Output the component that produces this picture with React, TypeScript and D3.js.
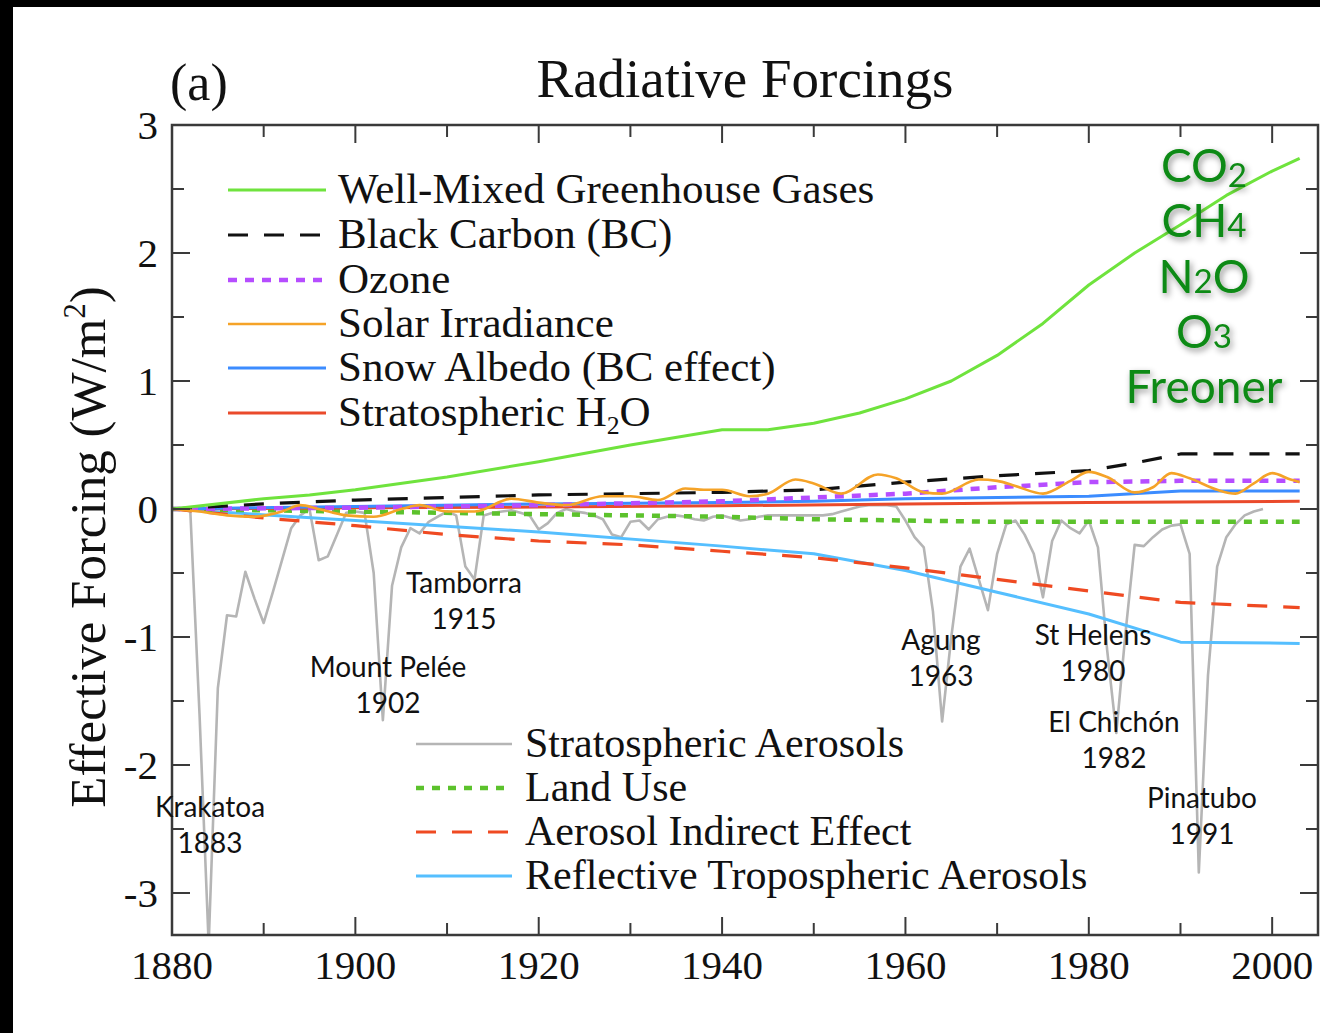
import React from "react";
import * as d3 from "d3";

// ---------- data ----------
const ghgYears = [1880, 1890, 1895, 1900, 1910, 1920, 1930, 1940, 1945, 1950, 1955, 1960, 1965, 1970, 1975, 1980, 1985, 1990, 1995, 2000, 2003];
const ghgVals = [0, 0.08, 0.11, 0.15, 0.25, 0.37, 0.5, 0.62, 0.62, 0.67, 0.75, 0.86, 1.0, 1.2, 1.45, 1.75, 2.0, 2.22, 2.45, 2.64, 2.74];

const bcYears = [1880, 1890, 1900, 1910, 1920, 1930, 1940, 1950, 1960, 1970, 1980, 1985, 1990, 2003];
const bcVals = [0, 0.04, 0.07, 0.09, 0.11, 0.12, 0.13, 0.15, 0.21, 0.26, 0.3, 0.36, 0.43, 0.43];

const ozoneYears = [1880, 1900, 1920, 1940, 1950, 1960, 1970, 1980, 1990, 2003];
const ozoneVals = [0, 0.01, 0.03, 0.06, 0.09, 0.12, 0.17, 0.21, 0.22, 0.22];

const solarYears = [1880, 1883, 1886, 1889, 1892, 1894, 1896, 1899, 1902, 1905, 1907, 1910, 1913, 1917, 1920, 1923, 1927, 1930, 1933, 1936, 1938, 1940, 1943, 1945, 1948, 1950, 1953, 1957, 1959, 1962, 1964, 1968, 1970, 1972, 1975, 1978, 1980, 1982, 1985, 1987, 1989, 1991, 1994, 1996, 1998, 2000, 2002, 2003];
const solarVals = [0, -0.02, -0.05, -0.06, -0.02, 0.03, 0.0, -0.05, -0.06, 0.0, 0.03, -0.02, -0.02, 0.08, 0.05, 0.03, 0.1, 0.1, 0.07, 0.16, 0.15, 0.15, 0.1, 0.12, 0.23, 0.2, 0.12, 0.27, 0.24, 0.13, 0.12, 0.23, 0.22, 0.18, 0.12, 0.22, 0.29, 0.25, 0.13, 0.17, 0.28, 0.24, 0.15, 0.12, 0.2, 0.28, 0.23, 0.21];

const snowYears = [1880, 1900, 1920, 1940, 1950, 1960, 1970, 1980, 1990, 2003];
const snowVals = [0, 0.02, 0.04, 0.05, 0.06, 0.08, 0.09, 0.1, 0.14, 0.14];

const h2oYears = [1880, 1900, 1920, 1940, 1960, 1980, 2003];
const h2oVals = [0, 0.01, 0.015, 0.025, 0.04, 0.05, 0.06];

const saYears = d3.range(1880, 2000);
const saVals = [
  0, 0, -0.02, -1.6, -3.4, -1.4, -0.83, -0.84, -0.49, -0.7,
  -0.89, -0.65, -0.4, -0.15, -0.05, 0, -0.4, -0.37, -0.2, -0.03,
  -0.02, -0.03, -0.5, -1.65, -0.6, -0.3, -0.15, -0.19, -0.1, -0.06,
  -0.02, -0.05, -0.45, -0.55, -0.05, -0.03, -0.02, -0.01, -0.03, -0.05,
  -0.16, -0.11, -0.03, 0, -0.02, -0.03, -0.05, -0.08, -0.2, -0.22,
  -0.1, -0.09, -0.16, -0.08, -0.06, -0.05, -0.06, -0.08, -0.09, -0.06,
  -0.05, -0.07, -0.09, -0.08, -0.06, -0.05, -0.05, -0.05, -0.05, -0.05,
  -0.05, -0.05, -0.04, -0.02, 0, 0.02, 0.03, 0.03, 0.03, 0.02,
  -0.09, -0.22, -0.3, -0.8, -1.66, -1.0, -0.45, -0.31, -0.55, -0.79,
  -0.35, -0.12, -0.09, -0.2, -0.35, -0.69, -0.25, -0.09, -0.15, -0.19,
  -0.09, -0.3, -1.1, -1.75, -0.97, -0.28, -0.29, -0.22, -0.16, -0.13,
  -0.12, -0.35, -2.84, -1.3, -0.45, -0.22, -0.12, -0.05, -0.02, 0,
];

const landYears = [1880, 1900, 1920, 1940, 1950, 1960, 1970, 2003];
const landVals = [0, -0.02, -0.04, -0.06, -0.08, -0.09, -0.1, -0.1];

const aieYears = [1880, 1890, 1900, 1910, 1920, 1930, 1940, 1950, 1960, 1970, 1980, 1990, 2003];
const aieVals = [0, -0.07, -0.13, -0.2, -0.25, -0.28, -0.33, -0.38, -0.46, -0.55, -0.64, -0.73, -0.77];

const rtaYears = [1880, 1900, 1920, 1940, 1950, 1960, 1970, 1980, 1990, 2003];
const rtaVals = [0, -0.09, -0.18, -0.29, -0.35, -0.48, -0.65, -0.82, -1.04, -1.05];

const xTickYears = [1880, 1900, 1920, 1940, 1960, 1980, 2000];
const yTickVals = [-3, -2, -1, 0, 1, 2, 3];

const legendTop = [
  "Well-Mixed Greenhouse Gases",
  "Black Carbon (BC)",
  "Ozone",
  "Solar Irradiance",
  "Snow Albedo (BC effect)",
  "Stratospheric H2O",
];
const legendBottom = [
  "Stratospheric Aerosols",
  "Land Use",
  "Aerosol Indirect Effect",
  "Reflective Tropospheric Aerosols",
];

const volcanoNames = ["Krakatoa", "Mount Pelée", "Tamborra", "Agung", "St Helens", "El Chichón", "Pinatubo"];
const volcanoYears = ["1883", "1902", "1915", "1963", "1980", "1982", "1991"];

const gasLabels = ["CO2", "CH4", "N2O", "O3", "Freoner"];

// ---------- styles ----------
type Sty = { color: string; width: number; dash?: string };
const sGHG: Sty = { color: "#6fe33d", width: 3 };
const sBC: Sty = { color: "#111", width: 3.2, dash: "20 16" };
const sOz: Sty = { color: "#b64dff", width: 4.5, dash: "9 8" };
const sSol: Sty = { color: "#f5a328", width: 2.6 };
const sSnow: Sty = { color: "#3c8cff", width: 3 };
const sH2O: Sty = { color: "#ea4a2b", width: 3 };
const sSA: Sty = { color: "#b5b5b5", width: 2.6 };
const sLand: Sty = { color: "#5cc22c", width: 4.5, dash: "8 8" };
const sAIE: Sty = { color: "#ef4a22", width: 3.2, dash: "20 16" };
const sRTA: Sty = { color: "#55bfff", width: 3 };

const topStyles = [sGHG, sBC, sOz, sSol, sSnow, sH2O];
const bottomStyles = [sSA, sLand, sAIE, sRTA];

const W = 1320;
const H = 1033;
const L = 172, R = 1318, T = 125, B = 935;

const SERIF = "'Liberation Serif', 'Times New Roman', serif";
const SANS = "Lato, 'Open Sans', sans-serif";

export default function App() {
  const x = d3.scaleLinear().domain([1880, 2005]).range([L, R]);
  const y = d3.scaleLinear().domain([-3.328, 3]).range([B, T]);
  const line = d3
    .line<[number, number]>()
    .x((d) => x(d[0]))
    .y((d) => y(d[1]));
  const smooth = d3
    .line<[number, number]>()
    .x((d) => x(d[0]))
    .y((d) => y(d[1]))
    .curve(d3.curveMonotoneX);

  const pairs = (ys: number[], vs: number[]) => ys.map((yy, i) => [yy, vs[i]] as [number, number]);
  const mk = (ys: number[], vs: number[]) => line(pairs(ys, vs)) || "";

  const series: { d: string; s: Sty }[] = [
    { d: mk(saYears, saVals), s: sSA },
    { d: mk(rtaYears, rtaVals), s: sRTA },
    { d: mk(aieYears, aieVals), s: sAIE },
    { d: mk(landYears, landVals), s: sLand },
    { d: mk(h2oYears, h2oVals), s: sH2O },
    { d: mk(snowYears, snowVals), s: sSnow },
    { d: mk(ozoneYears, ozoneVals), s: sOz },
    { d: mk(bcYears, bcVals), s: sBC },
    { d: smooth(pairs(solarYears, solarVals)) || "", s: sSol },
    { d: mk(ghgYears, ghgVals), s: sGHG },
  ];

  const xMinor = d3.range(1880, 2005, 10);
  const yMinor = d3.range(-3, 3.01, 0.5);

  const volcanoX = [210, 388, 464, 941, 1093, 1114, 1202];
  const volcanoY = [817, 677, 593, 650, 645, 732, 808];

  const renderGas = (g: string) => {
    const m = g.match(/^([A-Z]+?)(\d)(.*)$/);
    if (!m || g === "Freoner") return <tspan>{g}</tspan>;
    const down = g === "CO2" ? 5 : 0;
    return (
      <>
        <tspan>{m[1]}</tspan>
        <tspan fontSize="0.72em" dy={down}>{m[2]}</tspan>
        {m[3] ? <tspan dy={-down}>{m[3]}</tspan> : null}
      </>
    );
  };

  return (
    <svg width={W} height={H} style={{ position: "absolute", left: 0, top: 0, background: "#fff" }}>
      <defs>
        <clipPath id="plot">
          <rect x={L} y={T} width={R - L} height={B - T} />
        </clipPath>
        <filter id="shadow" x="-20%" y="-20%" width="140%" height="160%">
          <feDropShadow dx="2" dy="3" stdDeviation="3" floodColor="#000" floodOpacity="0.45" />
        </filter>
      </defs>
      <rect x={0} y={0} width={W} height={H} fill="#fff" />
      <rect x={0} y={0} width={W} height={7} fill="#000" />
      <rect x={0} y={0} width={13} height={H} fill="#000" />

      {/* title */}
      <text x={745} y={97} fontFamily={SERIF} fontSize={55} textAnchor="middle" fill="#111">
        Radiative Forcings
      </text>
      <text x={170} y={100} fontFamily={SERIF} fontSize={52} fill="#111">
        (a)
      </text>

      {/* series */}
      <g clipPath="url(#plot)">
        {series.map((sr, i) => (
          <path
            key={i}
            d={sr.d}
            fill="none"
            stroke={sr.s.color}
            strokeWidth={sr.s.width}
            strokeDasharray={sr.s.dash}
            strokeLinejoin="round"
          />
        ))}
      </g>

      {/* axes frame */}
      <rect x={L} y={T} width={R - L} height={B - T} fill="none" stroke="#3a3a3a" strokeWidth={2.5} />
      {xMinor.map((yr) => {
        const len = yr % 20 === 0 ? 18 : 12;
        return (
          <g key={"xt" + yr} stroke="#3a3a3a" strokeWidth={2}>
            <line x1={x(yr)} x2={x(yr)} y1={B} y2={B - len} />
            <line x1={x(yr)} x2={x(yr)} y1={T} y2={T + len} />
          </g>
        );
      })}
      {yMinor.map((v) => {
        const len = Math.abs(v - Math.round(v)) < 1e-6 ? 18 : 12;
        return (
          <g key={"yt" + v} stroke="#3a3a3a" strokeWidth={2}>
            <line x1={L} x2={L + len} y1={y(v)} y2={y(v)} />
            <line x1={R} x2={R - len} y1={y(v)} y2={y(v)} />
          </g>
        );
      })}
      {xTickYears.map((yr) => (
        <text key={"xl" + yr} x={x(yr)} y={979} fontFamily={SERIF} fontSize={41} textAnchor="middle" fill="#111">
          {yr}
        </text>
      ))}
      {yTickVals.map((v) => (
        <text key={"yl" + v} x={158} y={y(v) + 14} fontFamily={SERIF} fontSize={41} textAnchor="end" fill="#111">
          {v}
        </text>
      ))}
      <text
        transform={`translate(105, 547) rotate(-90)`}
        fontFamily={SERIF}
        fontSize={51}
        textAnchor="middle"
        fill="#111"
      >
        Effective Forcing (W/m<tspan fontSize="0.6em" dy={-20}>2</tspan>
        <tspan dy={20}>)</tspan>
      </text>

      {/* top legend */}
      {legendTop.map((lbl, i) => {
        const ly = [190, 235, 280, 324, 368, 413][i];
        const s = topStyles[i];
        return (
          <g key={"lt" + i}>
            <line x1={228} x2={326} y1={ly} y2={ly} stroke={s.color} strokeWidth={s.width} strokeDasharray={s.dash} />
            <text x={338} y={ly + 13} fontFamily={SERIF} fontSize={43} fill="#111">
              {lbl === "Stratospheric H2O" ? (
                <>
                  Stratospheric H<tspan fontSize="0.6em" dy={8}>2</tspan>
                  <tspan dy={-8}>O</tspan>
                </>
              ) : (
                lbl
              )}
            </text>
          </g>
        );
      })}

      {/* bottom legend */}
      {legendBottom.map((lbl, i) => {
        const ly = [744, 788, 832, 876][i];
        const s = bottomStyles[i];
        return (
          <g key={"lb" + i}>
            <line x1={416} x2={512} y1={ly} y2={ly} stroke={s.color} strokeWidth={s.width} strokeDasharray={s.dash} />
            <text x={525} y={ly + 13} fontFamily={SERIF} fontSize={42} fill="#111">
              {lbl}
            </text>
          </g>
        );
      })}

      {/* volcano labels */}
      {volcanoNames.map((n, i) => (
        <g key={"v" + i} fontFamily={SANS} fontSize={28} fill="#111" textAnchor="middle">
          <text x={volcanoX[i]} y={volcanoY[i]}>{n}</text>
          <text x={volcanoX[i]} y={volcanoY[i] + 36}>{volcanoYears[i]}</text>
        </g>
      ))}

      {/* gas labels */}
      <g fontFamily={SANS} fontSize={46} fill="#108a14" textAnchor="middle" filter="url(#shadow)">
        {gasLabels.map((g, i) => (
          <text key={"g" + i} x={1204} y={182 + i * 55.3}>
            {renderGas(g)}
          </text>
        ))}
      </g>
    </svg>
  );
}
